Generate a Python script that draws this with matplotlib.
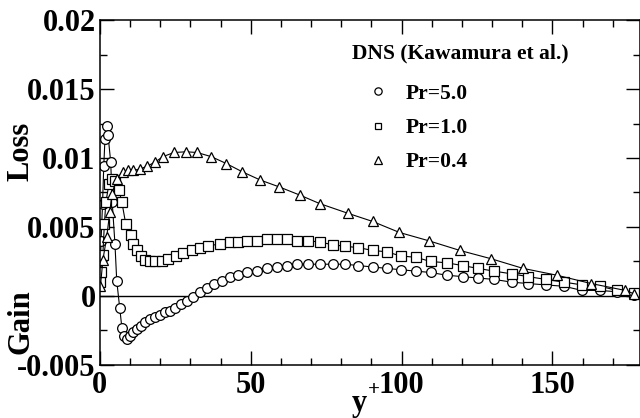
import numpy as np
from matplotlib import pyplot as plt
from matplotlib.ticker import MultipleLocator, FuncFormatter

plt.rcParams['font.family'] = ['Liberation Serif', 'DejaVu Serif']
plt.rcParams['font.weight'] = 'bold'
plt.rcParams['axes.unicode_minus'] = False

# Pr=5.0 (circles)
y5 = [0.1, 0.4, 0.9, 1.3, 1.7, 2.3, 2.7, 3.6, 4.1, 5.0, 5.6, 6.6, 7.3, 8.0, 9.0,
      10.0, 11.0, 12.3, 13.6, 15.0, 16.6, 18.3, 19.9, 21.6, 23.3, 24.9, 26.9, 28.9,
      30.9, 33.2, 35.5, 37.9, 40.5, 43.2, 45.8, 48.8, 52.2, 55.5, 58.8, 62.1, 65.4,
      69.1, 73.1, 77.4, 81.4, 85.7, 90.4, 95.0, 99.7, 104.7, 109.6, 115.0, 120.3,
      125.2, 130.6, 136.5, 141.9, 147.8, 153.8, 159.8, 165.8, 171.4, 177.1]
g5 = [0.0017, 0.0040, 0.0067, 0.0094, 0.0114, 0.0123, 0.0117, 0.0097, 0.0068, 0.0038,
      0.0011, -0.0009, -0.0023, -0.0029, -0.0031, -0.0029, -0.0026, -0.0024, -0.0022,
      -0.0019, -0.0017, -0.0015, -0.0014, -0.0012, -0.0011, -0.0009, -0.0006, -0.0004,
      -0.0001, 0.0003, 0.0006, 0.0009, 0.0011, 0.0014, 0.0015, 0.0017, 0.0018, 0.0020,
      0.0021, 0.0022, 0.0023, 0.0023, 0.0023, 0.0023, 0.0023, 0.0022, 0.0021, 0.0020,
      0.0019, 0.0018, 0.0017, 0.0015, 0.0014, 0.0013, 0.0012, 0.0010, 0.0009, 0.0008,
      0.0007, 0.0004, 0.0004, 0.0003, 0.0001]

# Pr=1.0 (squares)
y1 = [0.2, 0.5, 1.0, 1.5, 2.0, 3.0, 4.0, 5.0, 6.3, 7.3, 8.6, 10.3, 11.0, 12.3, 13.6,
      15.0, 16.6, 18.3, 20.6, 22.6, 25.2, 27.6, 30.6, 33.2, 35.9, 39.9, 43.2, 45.8,
      48.8, 52.2, 55.5, 58.8, 62.1, 65.4, 69.1, 73.1, 77.4, 81.4, 85.7, 90.4, 95.0,
      99.7, 104.7, 109.6, 115.0, 120.3, 125.2, 130.6, 136.5, 141.9, 147.8, 153.8,
      159.8, 165.8, 171.4, 177.1]
g1 = [0.0010, 0.0017, 0.0030, 0.0052, 0.0068, 0.0081, 0.0085, 0.0083, 0.0077, 0.0068,
      0.0052, 0.0044, 0.0038, 0.0033, 0.0029, 0.0026, 0.0025, 0.0025, 0.0025, 0.0027,
      0.0029, 0.0031, 0.0033, 0.0035, 0.0036, 0.0038, 0.0039, 0.0039, 0.0040, 0.0040,
      0.0041, 0.0041, 0.0041, 0.0040, 0.0040, 0.0039, 0.0037, 0.0036, 0.0035, 0.0033,
      0.0032, 0.0029, 0.0028, 0.0025, 0.0024, 0.0022, 0.0020, 0.0018, 0.0016, 0.0014,
      0.0012, 0.0010, 0.0008, 0.0007, 0.0004, 0.0002]

# Pr=0.4 (triangles)
y04 = [0.2, 1.0, 2.3, 3.3, 4.0, 5.6, 7.6, 9.3, 11.0, 13.3, 15.6, 18.3, 20.9, 24.6,
       28.6, 32.2, 36.9, 41.9, 47.2, 53.2, 59.5, 66.4, 72.8, 82.1, 90.4, 99.3, 109.0,
       119.3, 129.6, 140.2, 151.5, 162.8, 174.1, 177.1]
g04 = [0.0007, 0.0026, 0.0043, 0.0061, 0.0074, 0.0085, 0.0090, 0.0091, 0.0091, 0.0092,
       0.0094, 0.0097, 0.0101, 0.0104, 0.01045, 0.0104, 0.0101, 0.0096, 0.0090, 0.0084,
       0.0079, 0.0073, 0.0067, 0.0060, 0.0054, 0.0046, 0.0040, 0.0033, 0.0027, 0.0020,
       0.0015, 0.0009, 0.0004, 0.00015]

series = [(y5, g5, 'o', 7.0, 'Pr=5.0'),
          (y1, g1, 's', 6.5, 'Pr=1.0'),
          (y04, g04, '^', 7.2, 'Pr=0.4')]

fig = plt.figure(figsize=(6.4, 4.18), dpi=100)
ax = fig.add_axes([0.156, 0.127, 0.844, 0.825])

ax.axhline(0, color='k', lw=1)
for x, g, m, ms, lab in series:
    ax.plot(x, g, '-', color='k', lw=0.8)
    ax.plot(x, g, m, ls='none', mfc='white', mec='k', mew=0.9, ms=ms, label=lab)

ax.set_xlim(0, 179)
ax.set_ylim(-0.005, 0.02)
ax.xaxis.set_major_locator(MultipleLocator(50))
ax.xaxis.set_minor_locator(MultipleLocator(10))
ax.yaxis.set_major_locator(MultipleLocator(0.005))
ax.yaxis.set_minor_locator(MultipleLocator(0.0025))
ax.yaxis.set_major_formatter(FuncFormatter(lambda v, p: '%g' % round(v, 4)))
ax.tick_params(which='both', direction='in', top=True, right=True, width=1,
               labelsize=22)
ax.tick_params(axis='x', pad=4.5)
ax.tick_params(axis='y', pad=3)
ax.tick_params(which='major', length=10)
ax.tick_params(which='minor', length=5)
for s in ax.spines.values():
    s.set_linewidth(1.1)

fig.text(21 / 640, 1 - 151 / 418, 'Loss', rotation=90, ha='center', va='center',
         fontsize=22)
fig.text(21 / 640, 1 - 322 / 418, 'Gain', rotation=90, ha='center', va='center',
         fontsize=22)
fig.text(359 / 640, 1 - 404 / 418, 'y', ha='center', va='center', fontsize=22)
fig.text(374 / 640, 1 - 390 / 418, '+', ha='center', va='center', fontsize=15)

ax.text(0.467, 0.902, 'DNS (Kawamura et al.)', transform=ax.transAxes,
        ha='left', va='center', fontsize=15.5)
ax.legend(loc='upper left', bbox_to_anchor=(0.467, 0.815), frameon=False,
          prop={'size': 15.5, 'weight': 'bold'}, markerscale=0.75,
          handlelength=2.4, handletextpad=0.1, labelspacing=0.66,
          borderpad=0, borderaxespad=0)

plt.savefig('out.png', dpi=100)
